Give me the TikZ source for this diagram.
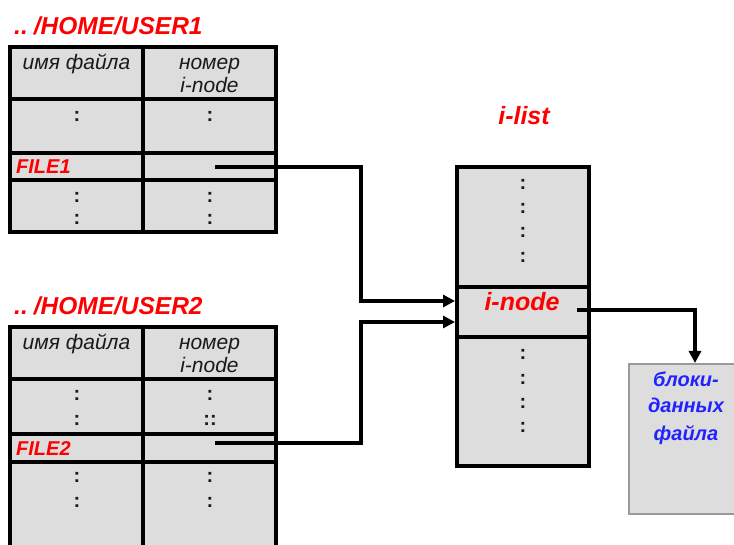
\documentclass[tikz,border=0pt]{standalone}
\usepackage{fontspec}
\setmainfont{Liberation Sans}
\usetikzlibrary{arrows.meta}
\definecolor{boxgray}{HTML}{DDDDDD}
\definecolor{redt}{HTML}{FF0000}
\definecolor{bluet}{HTML}{2222FF}
\definecolor{dark}{HTML}{1A1A1A}
\definecolor{edgegray}{HTML}{9A9A9A}
\begin{document}
\begin{tikzpicture}[x=1pt,y=-1pt,
  tbl/.style={draw=black,line width=3.4pt,fill=boxgray},
  grid/.style={draw=black,line width=3.4pt},
  conn/.style={draw=black,line width=3.2pt},
  arr/.style={conn,-{Triangle[length=12pt,width=12pt]}},
  ttl/.style={font=\fontsize{24.5}{28}\selectfont\bfseries\itshape,text=redt,inner sep=0pt},
  hdr/.style={font=\fontsize{21}{24}\selectfont\itshape,text=dark,inner sep=0pt},
  fname/.style={font=\fontsize{20}{24}\selectfont\bfseries\itshape,text=redt,inner sep=0pt},
  dts/.style={font=\fontsize{20}{24}\selectfont\bfseries,text=dark,inner sep=0pt},
  big/.style={font=\fontsize{25}{30}\selectfont\bfseries\itshape,text=redt,inner sep=0pt},
  blk/.style={font=\fontsize{20}{26}\selectfont\bfseries\itshape,text=bluet,inner sep=0pt}
]
\path[use as bounding box] (0,0) rectangle (734,545);
\clip (0,0) rectangle (734,545);

% ---------- table 1 ----------
\node[ttl,anchor=base west] (t1) at (14,35) {..\kern6pt/HOME/USER1};
\path[tbl] (10,47) rectangle (276,232);
\draw[grid] (143,47) -- (143,232);
\draw[grid] (10,99) -- (276,99);
\draw[grid] (10,153) -- (276,153);
\draw[grid] (10,180) -- (276,180);
\node[hdr,anchor=base] (h1a) at (76.5,70) {имя файла};
\node[hdr,anchor=base] (h1b) at (209.5,70) {номер};
\node[hdr,anchor=base] (h1c) at (209.5,93) {i-node};
\node[dts] (d1a) at (77,116) {:};
\node[dts] (d1b) at (210,116) {:};
\node[fname,anchor=base west] (fn1) at (16,174) {FILE1};
\node[dts] (d1c) at (77,197) {:};
\node[dts] (d1d) at (77,219) {:};
\node[dts] (d1e) at (210,197) {:};
\node[dts] (d1f) at (210,219) {:};
\coordinate (f1) at (215,167);

% ---------- table 2 ----------
\node[ttl,anchor=base west] (t2) at (14,315) {..\kern6pt/HOME/USER2};
\path[tbl] (10,327) rectangle (276,560);
\draw[grid] (143,327) -- (143,560);
\draw[grid] (10,379) -- (276,379);
\draw[grid] (10,434) -- (276,434);
\draw[grid] (10,462) -- (276,462);
\node[hdr,anchor=base] (h2a) at (76.5,350) {имя файла};
\node[hdr,anchor=base] (h2b) at (209.5,350) {номер};
\node[hdr,anchor=base] (h2c) at (209.5,373) {i-node};
\node[dts] (d2a) at (77,395) {:};
\node[dts] (d2b) at (77,420) {:};
\node[dts] (d2c) at (210,395) {:};
\node[dts] (d2d) at (210,420) {::};
\node[fname,anchor=base west] (fn2) at (16,455) {FILE2};
\node[dts] (d2e) at (77,477) {:};
\node[dts] (d2f) at (77,502) {:};
\node[dts] (d2g) at (210,477) {:};
\node[dts] (d2h) at (210,502) {:};
\coordinate (f2) at (215,443);

% ---------- i-list ----------
\node[big,anchor=base] (il) at (524,125) {i-list};
\path[tbl] (457,167) rectangle (589,466);
\draw[grid] (457,287) -- (589,287);
\draw[grid] (457,337) -- (589,337);
\node[big,anchor=base] (inode) at (522,311) {i-node};
\foreach \yy [count=\i] in {184,208,232,257,354,379,403,427}
  \node[dts] (li\i) at (523,\yy) {:};
\coordinate (in1) at (455,301);
\coordinate (in2) at (455,322);
\coordinate (io) at (577,310);

% ---------- data blocks ----------
\path[draw=edgegray,line width=2pt,fill=boxgray] (629,364) rectangle (745,514);
\coordinate (db) at (695,363);
\node[blk,anchor=base] (b1) at (686,387) {блоки-};
\node[blk,anchor=base] (b2) at (686,413) {данных};
\node[blk,anchor=base] (b3) at (686,440) {файла};

% ---------- connectors ----------
\draw[arr] (f1) -| (361,234) |- (in1);
\draw[arr] (f2) -| (361,380) |- (in2);
\draw[arr] (io) -| (db);
\end{tikzpicture}
\end{document}
